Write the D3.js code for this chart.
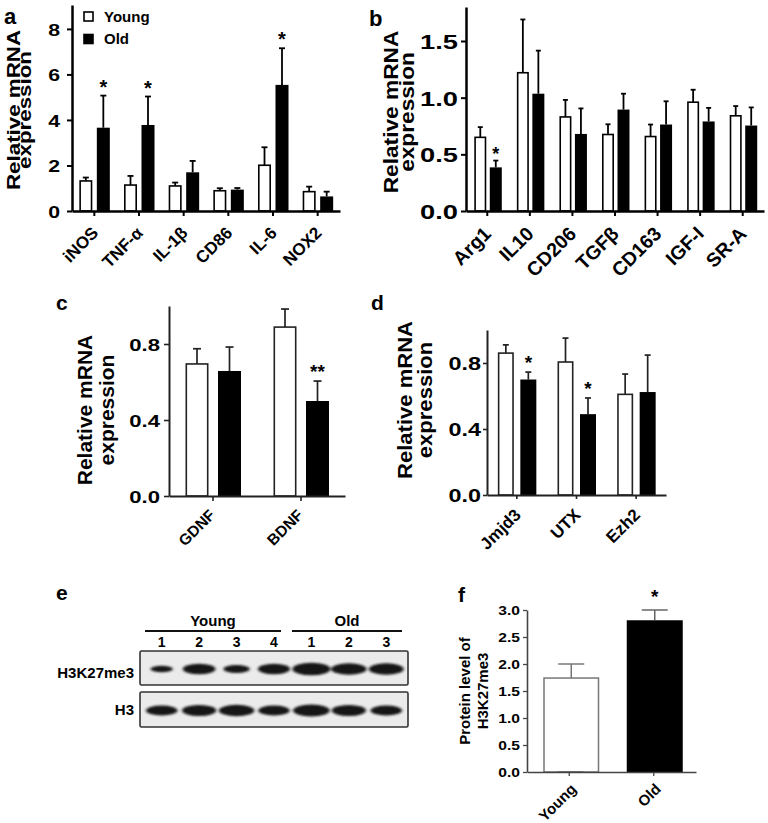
<!DOCTYPE html>
<html><head><meta charset="utf-8">
<script src="https://cdn.jsdelivr.net/npm/d3@7"></script>
<style>
body{margin:0;background:#fff}
text{font-family:"Liberation Sans",Arial,Helvetica,sans-serif;font-weight:bold;fill:#000}
</style>
</head><body>
<svg id="fig" width="768" height="823"></svg>
<script>
// ---------- data ----------
const seriesNames = ["Young","Old"];

const catA = ["iNOS","TNF-α","IL-1β","CD86","IL-6","NOX2"];
const youngA = [1.32,1.14,1.10,0.89,2.01,0.85];
const youngAErr = [0.15,0.40,0.15,0.11,0.79,0.22];
const oldA = [3.66,3.78,1.70,0.94,5.54,0.64];
const oldAErr = [1.41,1.25,0.50,0.07,1.61,0.21];
const oldAStars = ["*","*","","","*",""];
const ticksA = [0,2,4,6,8];

const catB = ["Arg1","IL10","CD206","TGFβ","CD163","IGF-I","SR-A"];
const youngB = [0.65,1.22,0.83,0.675,0.657,0.96,0.84];
const youngBErr = [0.09,0.47,0.15,0.09,0.106,0.11,0.086];
const oldB = [0.385,1.035,0.68,0.895,0.763,0.79,0.754];
const oldBErr = [0.06,0.38,0.225,0.14,0.205,0.12,0.16];
const oldBStars = ["*","","","","","",""];
const ticksB = [0,0.5,1.0,1.5];

const catC = ["GDNF","BDNF"];
const youngC = [0.695,0.889];
const youngCErr = [0.08,0.095];
const oldC = [0.658,0.50];
const oldCErr = [0.126,0.105];
const oldCStars = ["","**"];
const ticksC = [0,0.4,0.8];

const catD = ["Jmjd3","UTX","Ezh2"];
const youngD = [0.86,0.806,0.61];
const youngDErr = [0.05,0.145,0.123];
const oldD = [0.70,0.49,0.624];
const oldDErr = [0.045,0.098,0.224];
const oldDStars = ["*","*",""];
const ticksD = [0,0.4,0.8];

const catF = ["Young","Old"];
const valF = [1.74,2.81];
const errF = [0.26,0.19];
const starsF = ["","*"];
const ticksF = [0,0.5,1.0,1.5,2.0,2.5,3.0];

const blotGroups = ["Young","Old"];
const blotLanes = ["1","2","3","4","1","2","3"];
const h3k27me3Signal = [0.4,0.8,0.55,0.78,1.0,0.9,0.88];
const h3Signal = [0.75,0.85,0.9,0.75,0.95,0.85,0.75];

// ---------- helpers ----------
const svg = d3.select("#fig");
const defs = svg.append("defs");
defs.append("filter").attr("id","blur").attr("x","-30%").attr("y","-100%").attr("width","160%").attr("height","300%")
  .append("feGaussianBlur").attr("stdDeviation","1.6 1.1");

function stretch(sel,k){
  if(k===1) return;
  sel.each(function(){
    const L = this.getComputedTextLength();
    if(L>0){ this.setAttribute("textLength",L*k); this.setAttribute("lengthAdjust","spacingAndGlyphs"); }
  });
}

function panel(o){
  const g = svg.append("g");
  const x = d3.scaleBand().domain(o.cats).range([o.xl,o.xr]);
  const y = d3.scaleLinear().domain([0,o.ymax]).range([o.y0,o.ytop]);
  const cx = d => x(d)+x.bandwidth()/2;

  o.series.forEach((s,si)=>{
    const off = o.offsets[si];
    const gs = g.append("g");
    gs.selectAll("line.e").data(o.cats).enter().append("line")
      .attr("x1",d=>cx(d)+off).attr("x2",d=>cx(d)+off)
      .attr("y1",(d,i)=>y(s.values[i])).attr("y2",(d,i)=>y(s.values[i]+s.errs[i]))
      .attr("stroke",s.errColor).attr("stroke-width",o.errW);
    gs.selectAll("line.c").data(o.cats).enter().append("line")
      .attr("x1",d=>cx(d)+off-o.cap/2).attr("x2",d=>cx(d)+off+o.cap/2)
      .attr("y1",(d,i)=>y(s.values[i]+s.errs[i])).attr("y2",(d,i)=>y(s.values[i]+s.errs[i]))
      .attr("stroke",s.errColor).attr("stroke-width",o.errW);
    const hasStroke = s.stroke!=="none";
    gs.selectAll("rect").data(o.cats).enter().append("rect")
      .attr("x",d=>cx(d)+off-o.barW/2+(hasStroke?o.barSW/2:0))
      .attr("y",(d,i)=>y(s.values[i]))
      .attr("width",o.barW-(hasStroke?o.barSW:0))
      .attr("height",(d,i)=>y(0)-y(s.values[i]))
      .attr("fill",s.fill).attr("stroke",s.stroke).attr("stroke-width",o.barSW);
    if(s.stars){
      gs.selectAll("text.s").data(o.cats).enter().append("text")
        .attr("x",d=>cx(d)+off).attr("y",(d,i)=>y(s.values[i]+s.errs[i])-o.starGap)
        .attr("text-anchor","middle").style("font-size",o.starSize+"px")
        .text((d,i)=>s.stars[i]);
    }
  });

  const ya = g.append("g").attr("transform",`translate(${o.xl},0)`)
    .call(d3.axisLeft(y).tickValues(o.ticks).tickFormat(o.fmt).tickSize(o.tickLen).tickSizeOuter(0).tickPadding(o.tickPad));
  const xa = g.append("g").attr("transform",`translate(0,${o.y0})`)
    .call(d3.axisBottom(x).tickSize(o.tickLen).tickSizeOuter(0).tickFormat(""));
  [ya,xa].forEach(a=>{
    a.attr("font-family",null).attr("font-size",null);
    a.select(".domain").attr("stroke",o.axisColor).attr("stroke-width",o.axisW);
    a.selectAll(".tick line").attr("stroke",o.axisColor).attr("stroke-width",o.axisW*0.8);
  });
  const tt = ya.selectAll(".tick text").style("font-size",o.tickFont+"px").attr("fill","#000").attr("dy","0.36em");
  stretch(tt,o.tickStretch);

  g.selectAll("text.cat").data(o.cats).enter().append("text").attr("class","cat")
    .attr("transform",d=>`translate(${cx(d)+o.labDx},${o.y0+o.labDy}) rotate(-45)`)
    .attr("text-anchor","end").style("font-size",o.labFont+"px").text(d=>d);

  o.title.forEach((t,i)=>{
    const tx = g.append("text").attr("transform",`translate(${o.titleX[i]},${o.titleY}) rotate(-90)`)
      .attr("text-anchor","middle").style("font-size",o.titleFont+"px").text(t);
    stretch(tx,o.titleStretch);
  });
  g.append("text").attr("x",o.letter[1]).attr("y",o.letter[2]).style("font-size",o.letter[3]+"px").text(o.letter[0]);
  return {x,y,g};
}

const fmt1 = d3.format(".1f");

// panel a
const pa = panel({
  cats:catA, xl:72, xr:340, y0:211, ytop:5, ymax:9.05, ticks:ticksA, fmt:d3.format("d"),
  series:[{values:youngA,errs:youngAErr,fill:"#fff",stroke:"#000",errColor:"#000"},
          {values:oldA,errs:oldAErr,fill:"#000",stroke:"none",errColor:"#000",stars:oldAStars}],
  offsets:[-8.5,9], barW:13, barSW:1.6, errW:1.8, cap:6, starGap:2, starSize:20,
  axisColor:"#000", axisW:2.5, tickLen:5, tickPad:7, tickFont:17, tickStretch:1.25,
  labDx:5, labDy:23, labFont:17,
  title:["Relative mRNA","expression"], titleX:[20,31], titleY:110, titleFont:18, titleStretch:1.24,
  letter:["a",4,24,22]
});
const lg = pa.g.append("g");
seriesNames.forEach((n,i)=>{
  lg.append("rect").attr("x",84).attr("y",12+i*22.5).attr("width",9).attr("height",9)
    .attr("fill",i===0?"#fff":"#000").attr("stroke","#000").attr("stroke-width",1.6);
  lg.append("text").attr("x",104).attr("y",21.5+i*22.5).style("font-size","15px").text(n);
});

// panel b
panel({
  cats:catB, xl:466, xr:764, y0:211, ytop:7, ymax:1.8, ticks:ticksB, fmt:fmt1,
  series:[{values:youngB,errs:youngBErr,fill:"#fff",stroke:"#000",errColor:"#000"},
          {values:oldB,errs:oldBErr,fill:"#000",stroke:"none",errColor:"#000",stars:oldBStars}],
  offsets:[-7,8.5], barW:12, barSW:1.6, errW:1.8, cap:5, starGap:1, starSize:18,
  axisColor:"#000", axisW:2.5, tickLen:5, tickPad:3, tickFont:21, tickStretch:1.3,
  labDx:5, labDy:24, labFont:19.5,
  title:["Relative mRNA","expression"], titleX:[398,414], titleY:112, titleFont:21, titleStretch:1.08,
  letter:["b",369,26,22]
});

// panel c
panel({
  cats:catC, xl:169, xr:345, y0:496, ytop:306, ymax:1.0, ticks:ticksC, fmt:fmt1,
  series:[{values:youngC,errs:youngCErr,fill:"#fff",stroke:"#222",errColor:"#222"},
          {values:oldC,errs:oldCErr,fill:"#000",stroke:"none",errColor:"#222",stars:oldCStars}],
  offsets:[-16,16.5], barW:23, barSW:1.6, errW:1.7, cap:8, starGap:3, starSize:19,
  axisColor:"#222", axisW:2, tickLen:5, tickPad:4, tickFont:17, tickStretch:1.3,
  labDx:3, labDy:20, labFont:15.5,
  title:["Relative mRNA","expression"], titleX:[92,114], titleY:410, titleFont:21, titleStretch:1.0,
  letter:["c",56,310,21]
});

// panel d
panel({
  cats:catD, xl:487, xr:666, y0:495, ytop:330, ymax:1.0, ticks:ticksD, fmt:fmt1,
  series:[{values:youngD,errs:youngDErr,fill:"#fff",stroke:"#222",errColor:"#222"},
          {values:oldD,errs:oldDErr,fill:"#000",stroke:"none",errColor:"#222",stars:oldDStars}],
  offsets:[-11,11.5], barW:16, barSW:1.6, errW:1.7, cap:6, starGap:3, starSize:19,
  axisColor:"#222", axisW:2, tickLen:4, tickPad:2, tickFont:18, tickStretch:1.3,
  labDx:5, labDy:21, labFont:17,
  title:["Relative mRNA","expression"], titleX:[412,432], titleY:400, titleFont:21, titleStretch:1.05,
  letter:["d",371,310,21]
});

// panel f
panel({
  cats:catF, xl:527, xr:696, y0:772, ytop:610, ymax:3.0, ticks:ticksF, fmt:fmt1,
  series:[{values:valF.map((v,i)=>i===0?v:0),errs:errF.map((v,i)=>i===0?v:0),fill:"#fff",stroke:"#777",errColor:"#777"},
          {values:valF.map((v,i)=>i===1?v:0),errs:errF.map((v,i)=>i===1?v:0),fill:"#000",stroke:"none",errColor:"#666",stars:starsF}],
  offsets:[2,1], barW:56, barSW:1.5, errW:1.5, cap:26, starGap:7, starSize:19,
  axisColor:"#444", axisW:1.6, tickLen:4, tickPad:3, tickFont:13, tickStretch:1.2,
  labDx:8, labDy:18, labFont:15,
  title:["Protein level of","H3K27me3"], titleX:[470,488], titleY:691, titleFont:15, titleStretch:1.0,
  letter:["f",458,602,21]
});

// ---------- panel e : western blot ----------
const ge = svg.append("g");
ge.append("text").attr("x",56).attr("y",600).style("font-size","21px").text("e");
const lx = d3.scaleBand().domain(d3.range(blotLanes.length)).range([143,405]);
const lc = i => lx(i)+lx.bandwidth()/2;
const sw = d3.scaleLinear().domain([0,1]).range([12,38]);
const sh = d3.scaleLinear().domain([0,1]).range([1,11]);
const groupExtent = [[145,281],[292,402]];
blotGroups.forEach((gname,gi)=>{
  ge.append("line").attr("x1",groupExtent[gi][0]).attr("x2",groupExtent[gi][1])
    .attr("y1",631).attr("y2",631).attr("stroke","#111").attr("stroke-width",2);
  ge.append("text").attr("x",(groupExtent[gi][0]+groupExtent[gi][1])/2).attr("y",626)
    .attr("text-anchor","middle").style("font-size","15px").text(gname);
});
ge.selectAll("text.lane").data(blotLanes).enter().append("text")
  .attr("x",(d,i)=>lc(i)).attr("y",647).attr("text-anchor","middle").style("font-size","14px").text(d=>d);
const membranes = [{y:651,h:34,label:"H3K27me3",sig:h3k27me3Signal,ly:678},
                   {y:692,h:35,label:"H3",sig:h3Signal,ly:715}];
membranes.forEach(m=>{
  ge.append("rect").attr("x",140).attr("y",m.y).attr("width",268).attr("height",m.h)
    .attr("fill","#ebebeb").attr("stroke","#333").attr("stroke-width",1.6).attr("rx",1.5);
  ge.append("text").attr("x",134).attr("y",m.ly).attr("text-anchor","end").style("font-size","15px").text(m.label);
  const bands = ge.append("g").attr("filter","url(#blur)");
  bands.selectAll("ellipse").data(m.sig).enter().append("ellipse")
    .attr("cx",(d,i)=>lc(i)).attr("cy",m.y+m.h/2+1)
    .attr("rx",d=>sw(d)/2).attr("ry",d=>sh(d)/2+0.8)
    .attr("fill","#151515");
});
</script>
</body></html>
